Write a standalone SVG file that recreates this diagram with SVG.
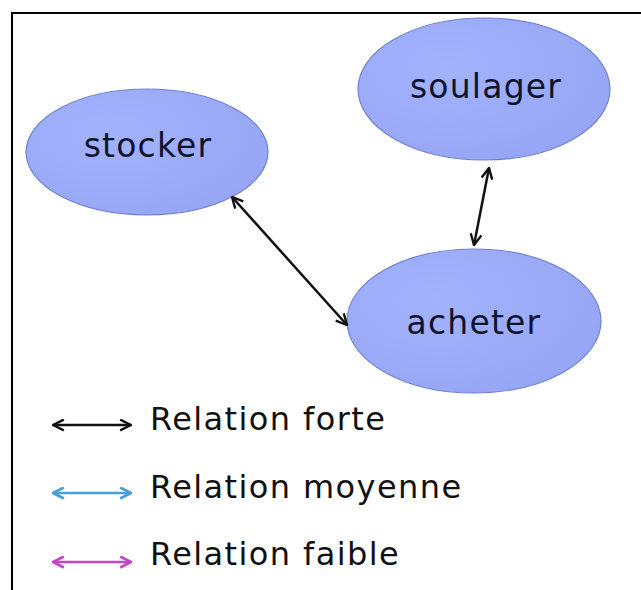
<svg xmlns="http://www.w3.org/2000/svg" width="641" height="590" viewBox="0 0 641 590">
<style>
.node ellipse{fill:url(#g);stroke:#7080d0;stroke-width:1.2}
.lbl{font-family:"DejaVu Sans",sans-serif;font-size:33px;letter-spacing:1.2px;fill:#10132e;text-anchor:middle}
.leg{font-family:"DejaVu Sans",sans-serif;font-size:32px;letter-spacing:1.4px;fill:#111}
.edge{fill:none;stroke-width:2.5}
</style>
<defs>
<radialGradient id="g" cx="0.35" cy="0.35" r="0.8">
<stop offset="0" stop-color="#a2b2fc"/>
<stop offset="1" stop-color="#95a5f4"/>
</radialGradient>
<marker id="ak" viewBox="0 0 12 12" refX="11" refY="6" markerWidth="13" markerHeight="13" markerUnits="userSpaceOnUse" orient="auto-start-reverse">
<path d="M1,1 L11,6 L1,11" fill="none" stroke="#111" stroke-width="2.2"/>
</marker>
<marker id="ab" viewBox="0 0 12 12" refX="11" refY="6" markerWidth="13" markerHeight="13" markerUnits="userSpaceOnUse" orient="auto-start-reverse">
<path d="M1,1 L11,6 L1,11" fill="none" stroke="#4a9fd6" stroke-width="2.6"/>
</marker>
<marker id="ap" viewBox="0 0 12 12" refX="11" refY="6" markerWidth="13" markerHeight="13" markerUnits="userSpaceOnUse" orient="auto-start-reverse">
<path d="M1,1 L11,6 L1,11" fill="none" stroke="#c445c8" stroke-width="2.6"/>
</marker>
</defs>
<rect width="641" height="590" fill="#fff"/>
<path d="M12,590 V13 H641" fill="none" stroke="#000" stroke-width="2"/>
<g id="stocker" class="node"><ellipse cx="147" cy="152" rx="121" ry="63"/><text class="lbl" x="148" y="157">stocker</text></g>
<g id="soulager" class="node"><ellipse cx="484" cy="89" rx="126" ry="71"/><text class="lbl" x="486" y="98">soulager</text></g>
<g id="acheter" class="node"><ellipse cx="474" cy="321" rx="127" ry="72"/><text class="lbl" x="474" y="334">acheter</text></g>
<g id="connectors">
<line class="edge" stroke="#111" x1="232" y1="197" x2="347" y2="325" marker-start="url(#ak)" marker-end="url(#ak)"/>
<line class="edge" stroke="#111" x1="489" y1="168" x2="474" y2="245" marker-start="url(#ak)" marker-end="url(#ak)"/>
</g>
<g id="legend">
<line class="edge" stroke="#111" x1="53" y1="425" x2="131" y2="425" marker-start="url(#ak)" marker-end="url(#ak)"/>
<line class="edge" stroke="#4a9fd6" stroke-width="3" x1="53" y1="493" x2="131" y2="493" marker-start="url(#ab)" marker-end="url(#ab)"/>
<line class="edge" stroke="#c445c8" stroke-width="3" x1="53" y1="562" x2="131" y2="562" marker-start="url(#ap)" marker-end="url(#ap)"/>
<text class="leg" x="150" y="430">Relation forte</text>
<text class="leg" x="150" y="498">Relation moyenne</text>
<text class="leg" x="150" y="565">Relation faible</text>
</g>
</svg>
